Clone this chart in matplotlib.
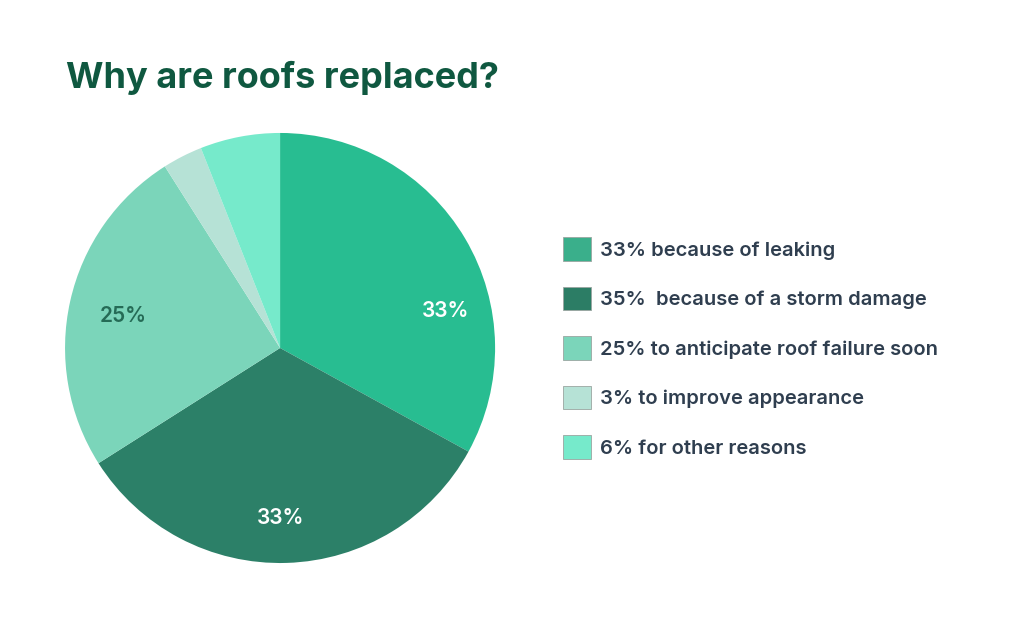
import matplotlib.pyplot as plt
from matplotlib.patches import Patch

# chart data
reasons = ['33% because of leaking', '35%  because of a storm damage',
           '25% to anticipate roof failure soon', '3% to improve appearance',
           '6% for other reasons']
shares = [33, 33, 25, 3, 6]
slice_labels = ['33%', '33%', '25%', '', '']
colors = ['#28BD91', '#2C8068', '#7BD5BA', '#B6E2D6', '#76EACB']
legend_colors = ['#3AAF8B', '#2C7D65', '#7BD5BA', '#B6E2D6', '#76EACB']

plt.rcParams['font.family'] = ['Inter', 'DejaVu Sans']

fig = plt.figure(figsize=(10.24, 6.17), dpi=100)
fig.patch.set_facecolor('white')

# title
fig.text(0.064, 0.874, 'Why are roofs replaced?', fontsize=26, fontweight='bold',
         color='#0F5840', va='center', ha='left')

# pie
ax = fig.add_axes([0.0635, 0.0875, 0.42, 0.697])
wedges, texts = ax.pie(shares, colors=colors, startangle=90, counterclock=False,
                       wedgeprops=dict(linewidth=0))
ax.set_xlim(-1, 1)
ax.set_ylim(-1, 1)
ax.set_aspect('equal')

# percentage labels inside the slices
label_pos = [(0.77, 0.17), (0.0, -0.79), (-0.73, 0.15)]
label_colors = ['white', 'white', '#256B56']
for txt, (x, y), c in zip(slice_labels, label_pos, label_colors):
    if txt:
        ax.text(x, y, txt, ha='center', va='center', fontsize=15,
                fontweight='semibold', color=c)

# legend
handles = [Patch(facecolor=c, edgecolor='#9aa5a1', linewidth=0.6) for c in legend_colors]
leg = fig.legend(handles, reasons, loc='center left', bbox_to_anchor=(0.542, 0.436),
                 frameon=False, fontsize=14.5, handlelength=1.4, handleheight=1.4,
                 handletextpad=0.45, labelspacing=1.3, borderaxespad=0)
for t in leg.get_texts():
    t.set_color('#2F3E4F')
    t.set_fontweight('semibold')

plt.savefig('out.png', dpi=100)
